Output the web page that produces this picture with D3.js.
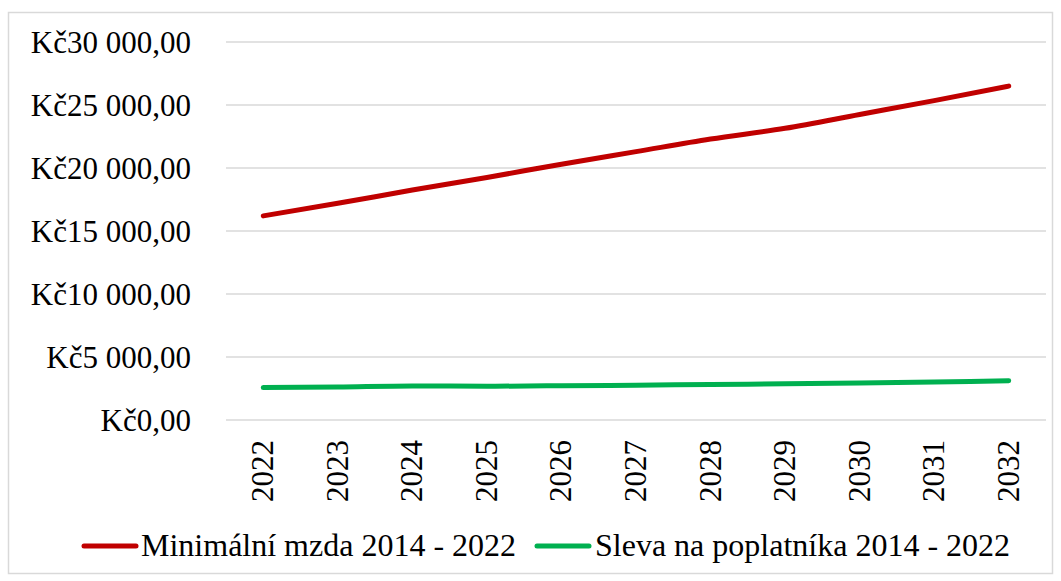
<!DOCTYPE html>
<meta charset="utf-8">
<style>
body { margin: 0; background: #fff; }
text { font-family: "Liberation Serif", "Times New Roman", serif; fill: #000; }
.grid line { stroke: #d9d9d9; stroke-width: 1.5px; }
.line { fill: none; stroke-width: 5px; stroke-linecap: round; stroke-linejoin: round; }
</style>
<svg width="1061" height="581"></svg>
<script src="https://cdn.jsdelivr.net/npm/d3@7"></script>
<script>
var years = ["2022", "2023", "2024", "2025", "2026", "2027", "2028", "2029", "2030", "2031", "2032"];
var minMzda = [16200, 17200, 18250, 19250, 20300, 21300, 22300, 23150, 24250, 25350, 26500];
var sleva = [2570, 2620, 2700, 2680, 2720, 2760, 2820, 2870, 2930, 3020, 3110];
var yTicks = [0, 5000, 10000, 15000, 20000, 25000, 30000];
var seriesNames = ["Minimální mzda 2014 - 2022", "Sleva na poplatníka 2014 - 2022"];
var colors = ["#c00000", "#00b050"];

var svg = d3.select("svg");

// chart frame
svg.append("rect")
    .attr("x", 8.5).attr("y", 12.5)
    .attr("width", 1044).attr("height", 561)
    .attr("fill", "none")
    .attr("stroke", "#d9d9d9")
    .attr("stroke-width", 1.5);

var plot = {left: 226, right: 1046, top: 42, bottom: 420};

var x = d3.scaleBand().domain(years).range([plot.left, plot.right]);
var y = d3.scaleLinear().domain([0, 30000]).range([plot.bottom, plot.top]);

function fmt(v) {
  var s = d3.format(",.2f")(v).replace(/,/g, " ").replace(".", ",");
  return "Kč" + s;
}

var grid = svg.append("g").attr("class", "grid");
grid.selectAll("line").data(yTicks).enter().append("line")
    .attr("x1", plot.left).attr("x2", plot.right)
    .attr("y1", function(d) { return y(d); })
    .attr("y2", function(d) { return y(d); });

svg.append("g").selectAll("text").data(yTicks).enter().append("text")
    .attr("x", 191)
    .attr("y", function(d) { return y(d); })
    .attr("dy", "0.34em")
    .attr("text-anchor", "end")
    .style("font-size", "31px")
    .text(fmt);

svg.append("g").selectAll("text").data(years).enter().append("text")
    .attr("transform", function(d) {
      return "translate(" + (x(d) + x.bandwidth() / 2 + 10) + ",440) rotate(-90)";
    })
    .attr("text-anchor", "end")
    .style("font-size", "31px")
    .text(function(d) { return d; });

var line = d3.line()
    .x(function(d, i) { return x(years[i]) + x.bandwidth() / 2; })
    .y(function(d) { return y(d); })
    .curve(d3.curveMonotoneX);

[minMzda, sleva].forEach(function(s, i) {
  svg.append("path")
      .datum(s)
      .attr("class", "line")
      .attr("stroke", colors[i])
      .attr("d", line);
});

// legend
var legendItems = [{x: 82, tx: 141}, {x: 535, tx: 595}];
legendItems.forEach(function(p, i) {
  var g = svg.append("g");
  g.append("line")
      .attr("x1", p.x + 2).attr("x2", p.x + 54)
      .attr("y1", 546).attr("y2", 546)
      .attr("stroke", colors[i])
      .attr("stroke-width", 5)
      .attr("stroke-linecap", "round");
  g.append("text")
      .attr("x", p.tx).attr("y", 556)
      .style("font-size", "32px")
      .text(seriesNames[i]);
});
</script>
